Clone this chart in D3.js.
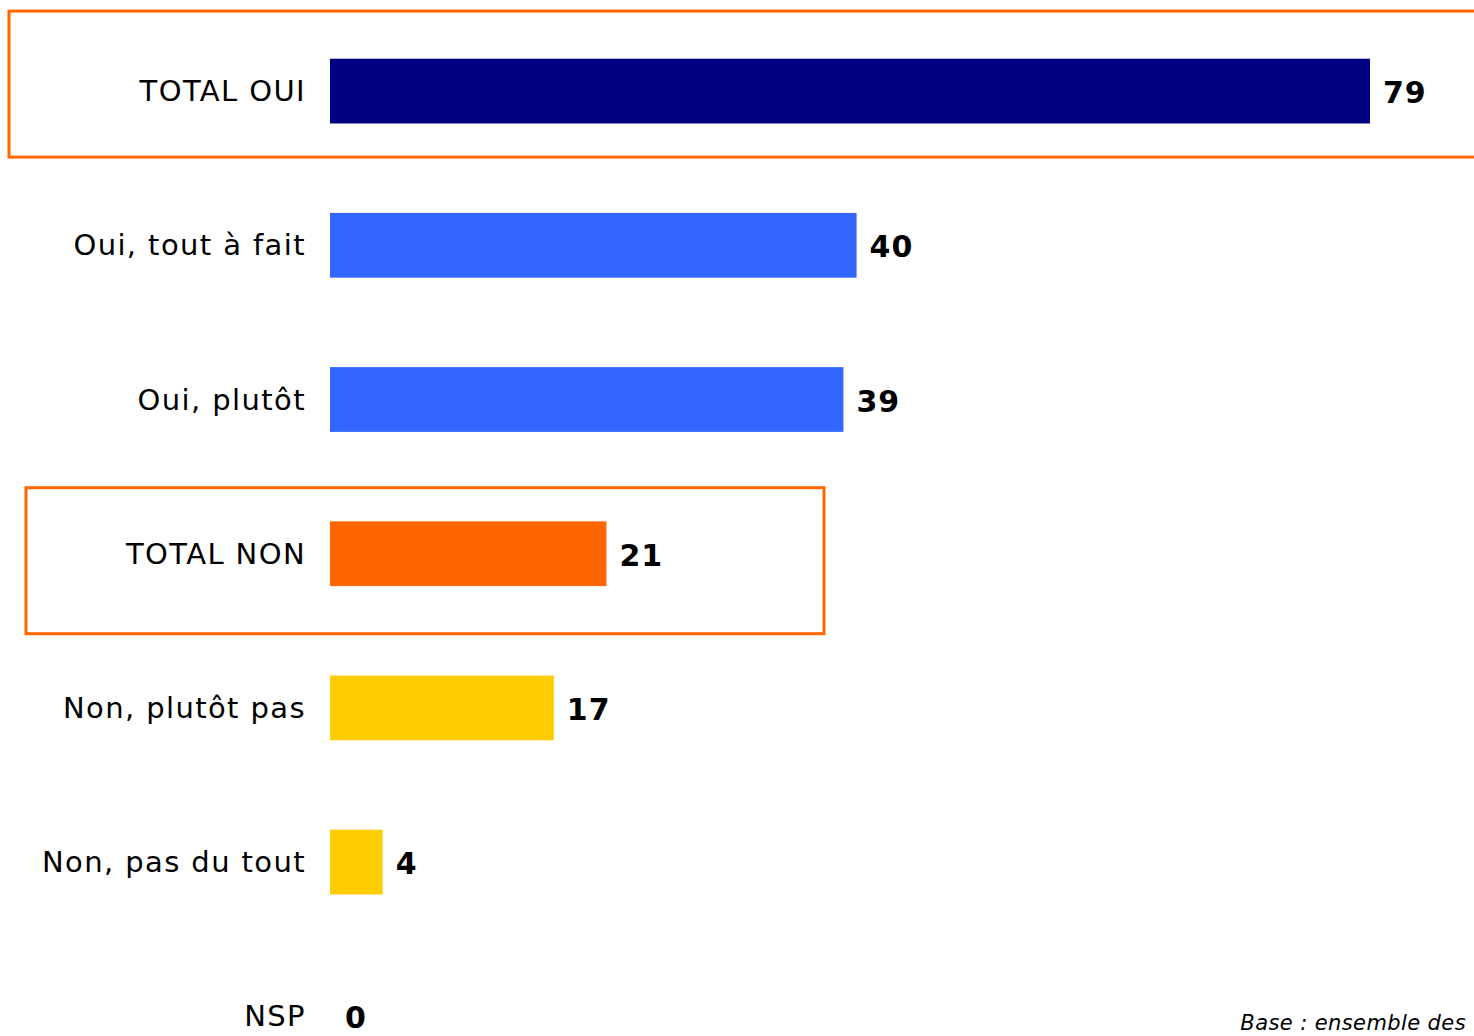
<!DOCTYPE html>
<html>
<head>
<meta charset="utf-8">
<script src="https://cdn.jsdelivr.net/npm/d3@7"></script>
<style>
  body { margin: 0; background: #fff; }
  svg { display: block; font-family: "DejaVu Sans", Verdana, sans-serif; }
</style>
</head>
<body>
<div id="chart"></div>
<script>
var categories = ["TOTAL OUI", "Oui, tout à fait", "Oui, plutôt", "TOTAL NON", "Non, plutôt pas", "Non, pas du tout", "NSP"];
var values = [79, 40, 39, 21, 17, 4, 0];
var barColours = ["#000080", "#3366FF", "#3366FF", "#FF6600", "#FFCC00", "#FFCC00", "#FFCC00"];
var footnote = "Base : ensemble des";

var width = 1474;
var height = 1036;

var svg = d3.select("#chart")
    .append("svg")
    .attr("width", width)
    .attr("height", height);

var x = d3.scaleLinear().domain([0, 79]).range([330, 1370]);
var y = d3.scaleBand().domain(categories).range([14, 1093.4])
    .paddingInner(0.58).paddingOuter(0.29);

// orange frames round the two totals
var frames = [
    { cat: "TOTAL OUI", x0: 9, x1: 1480, top: -80 },
    { cat: "TOTAL NON", x0: 26, x1: 824, top: -66 }
];
svg.append("g")
    .selectAll("rect")
    .data(frames)
    .enter().append("rect")
    .attr("x", d => d.x0)
    .attr("y", d => y(d.cat) + y.bandwidth() / 2 + d.top)
    .attr("width", d => d.x1 - d.x0)
    .attr("height", 146)
    .attr("fill", "none")
    .attr("stroke", "#FF6600")
    .attr("stroke-width", 3);

var rows = categories.map((c, i) => ({ cat: c, v: values[i], col: barColours[i] }));

svg.append("g")
    .selectAll("rect")
    .data(rows)
    .enter().append("rect")
    .attr("x", x(0))
    .attr("y", d => y(d.cat))
    .attr("width", d => x(d.v) - x(0))
    .attr("height", y.bandwidth())
    .attr("fill", d => d.col);

svg.append("g")
    .selectAll("text")
    .data(rows)
    .enter().append("text")
    .attr("x", 306)
    .attr("y", d => y(d.cat) + y.bandwidth() / 2 + 10)
    .attr("text-anchor", "end")
    .attr("font-size", 29)
    .attr("letter-spacing", 1.4)
    .attr("fill", "#000")
    .text(d => d.cat);

svg.append("g")
    .selectAll("text")
    .data(rows)
    .enter().append("text")
    .attr("x", d => x(d.v) + (d.v === 0 ? 15 : 13))
    .attr("y", d => y(d.cat) + y.bandwidth() / 2 + 12)
    .attr("font-size", 30)
    .attr("font-weight", "bold")
    .attr("letter-spacing", 1)
    .attr("fill", "#000")
    .text(d => d.v);

svg.append("text")
    .attr("x", 1466)
    .attr("y", 1030)
    .attr("text-anchor", "end")
    .attr("font-size", 21)
    .attr("letter-spacing", 0.4)
    .attr("font-style", "italic")
    .text(footnote);
</script>
</body>
</html>
